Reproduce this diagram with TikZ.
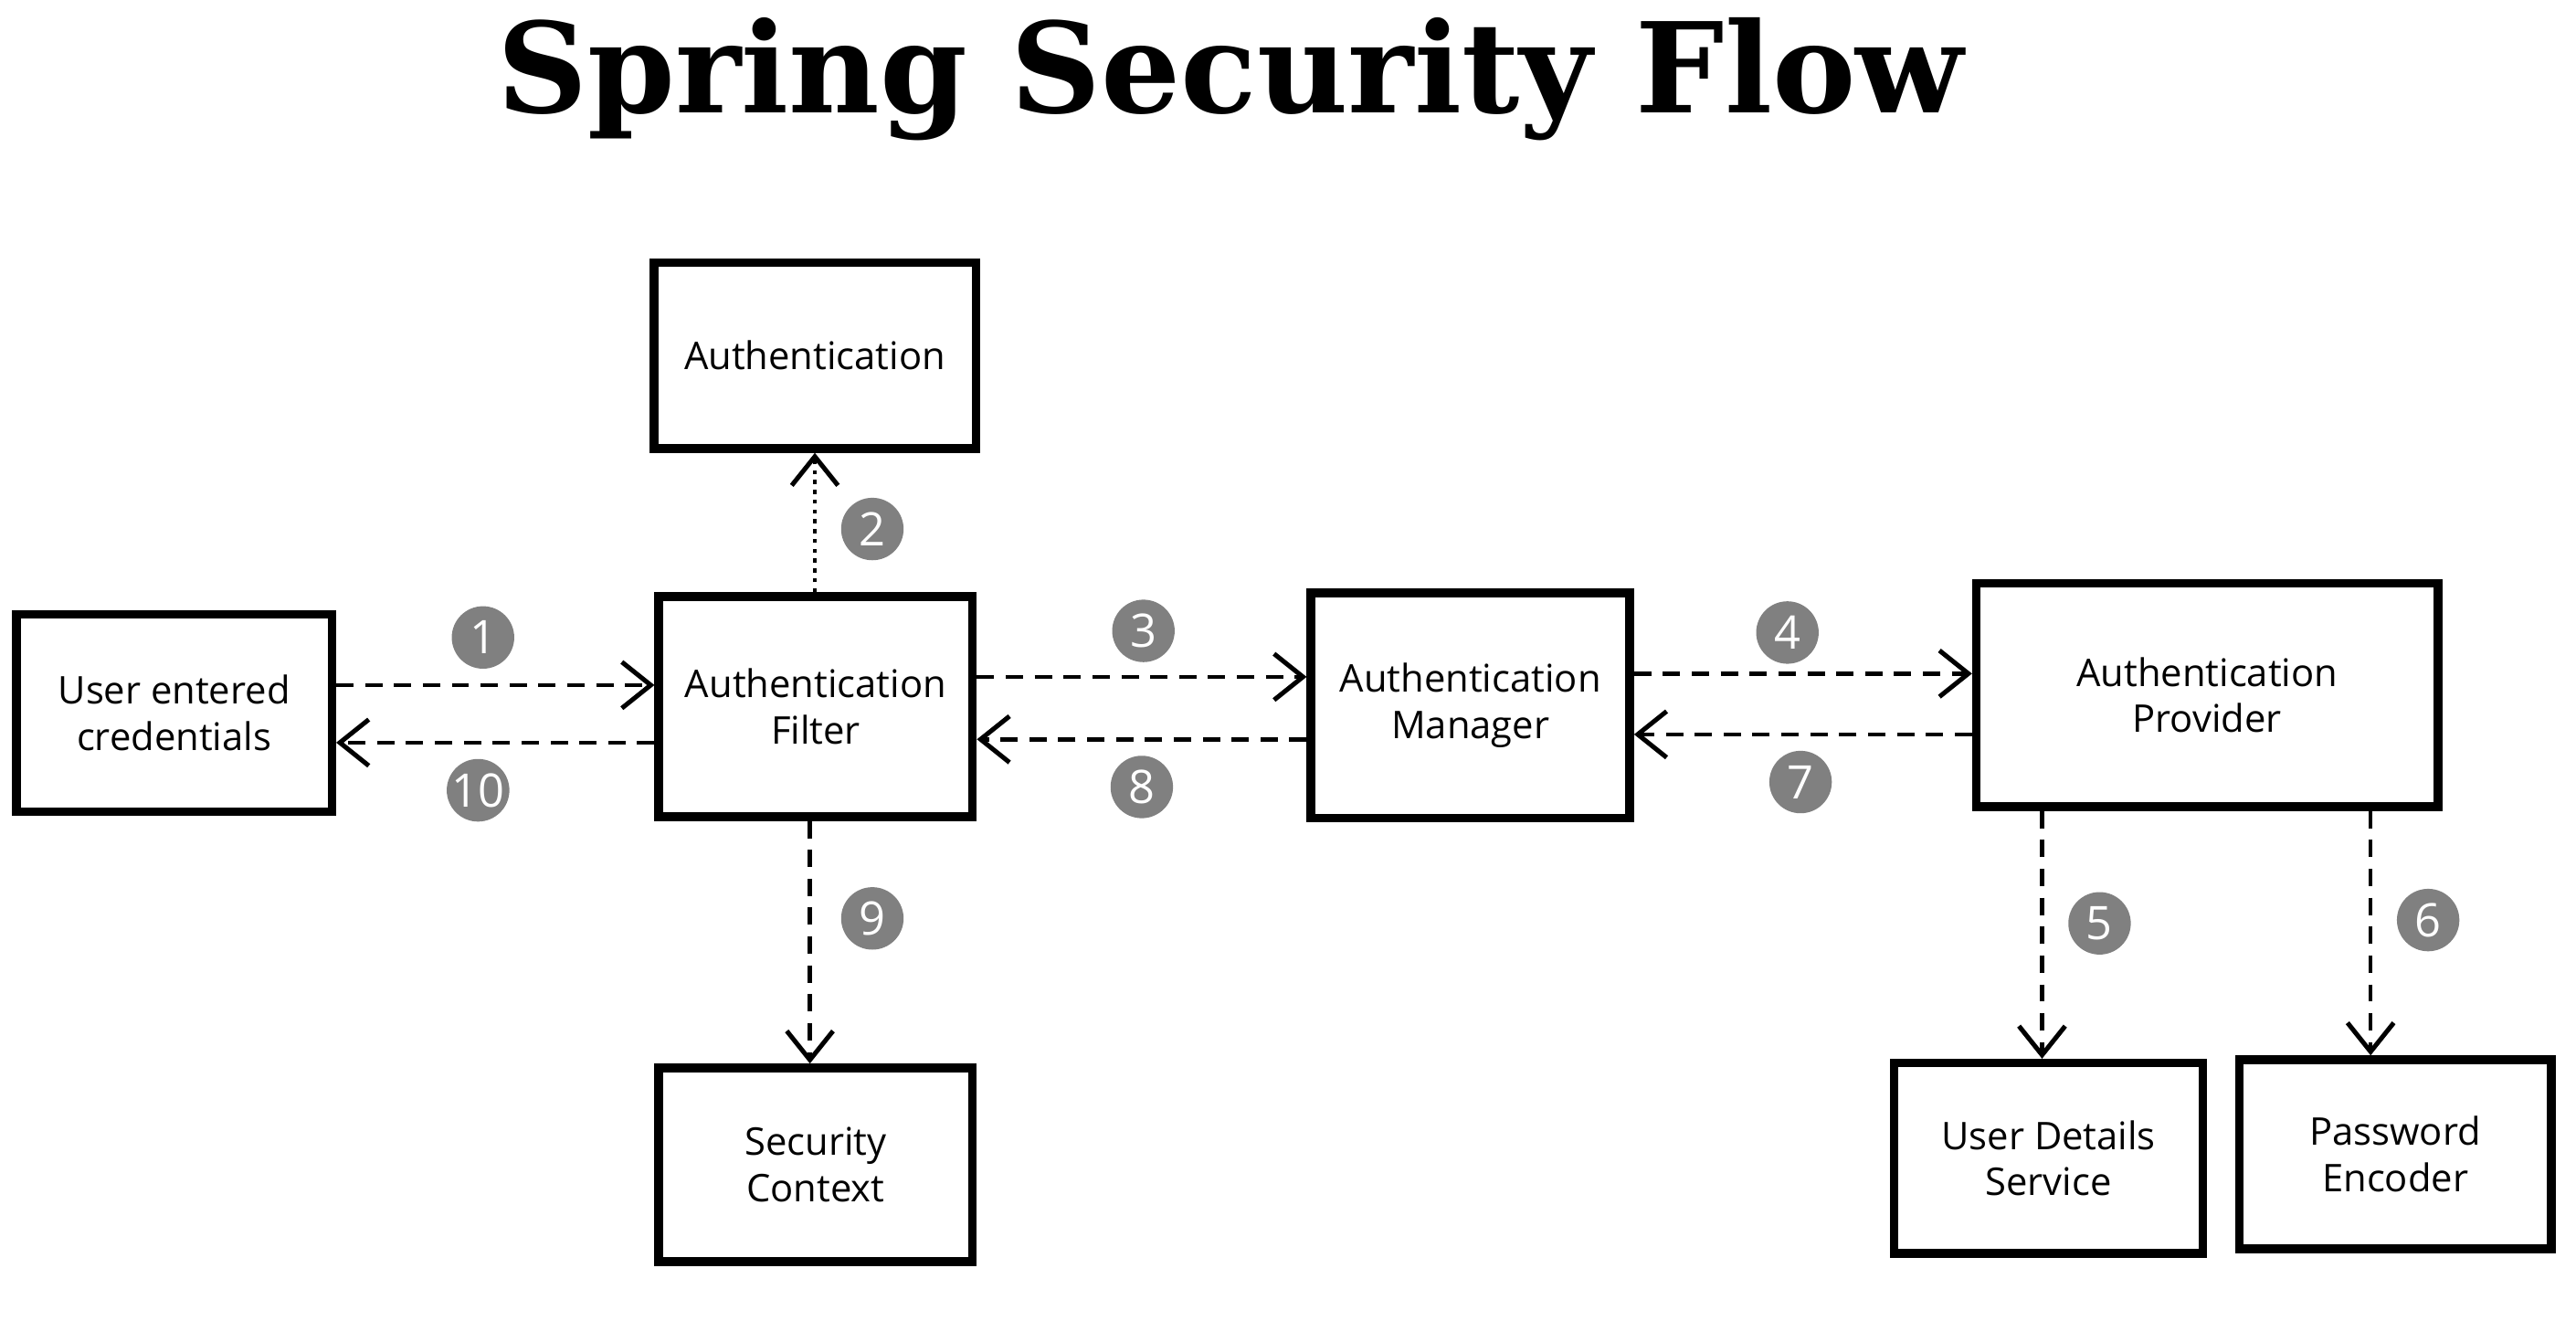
\documentclass[tikz,border=0pt]{standalone}
\usepackage{fontspec}
\setmainfont{Open Sans}
\newfontfamily\titlefont{DejaVu Serif}
\usetikzlibrary{arrows.meta}
\begin{document}
\begin{tikzpicture}[x=0.01cm,y=-0.01cm,
 box/.style={draw,line width=1.5pt,align=center,font=\fontsize{6.6}{8}\selectfont,inner sep=0pt},
 arr/.style={densely dashed,line width=0.7pt,-{Straight Barb[length=5pt,width=8pt,line width=0.8pt]}},
 num/.style={circle,fill=black!50,text=white,minimum size=0.38cm,inner sep=0pt,font=\fontsize{8}{8}\selectfont}]
\useasboundingbox (0,0) rectangle (1568,804);
\node[font=\titlefont\bfseries] (t) at (749,48) {\resizebox{8.92cm}{!}{Spring Security Flow}};
\newcommand\bx[6]{\node[box,minimum width={(#4-#2)*0.01cm},minimum height={(#5-#3)*0.01cm}] (#1) at ({(#2+#4)/2},{(#3+#5)/2}) {#6};}
\bx{u}{10}{374}{202}{494}{User entered\\credentials}
\bx{a}{398}{160}{594}{273}{Authentication}
\bx{f}{401}{363}{592}{497}{Authentication\\Filter}
\bx{m}{798}{361}{992}{498}{Authentication\\Manager}
\bx{p}{1203}{355}{1484}{491}{Authentication\\Provider}
\bx{s}{401}{650}{592}{768}{Security\\Context}
\bx{d}{1153}{647}{1341}{763}{User Details\\Service}
\bx{e}{1363}{645}{1553}{760}{Password\\Encoder}
\draw[arr] (u.east|-0,417) -- (f.west|-0,417);
\draw[arr] (f.west|-0,452) -- (u.east|-0,452);
\draw[arr] (f.east|-0,412) -- (m.west|-0,412);
\draw[arr] (m.west|-0,450) -- (f.east|-0,450);
\draw[arr] (m.east|-0,410) -- (p.west|-0,410);
\draw[arr] (p.west|-0,447) -- (m.east|-0,447);
\draw[arr,densely dotted] (f.north-|496,0) -- (a.south-|496,0);
\draw[arr] (f.south-|493,0) -- (s.north-|493,0);
\draw[arr] (p.south-|1243,0) -- (d.north-|1243,0);
\draw[arr] (p.south-|1443,0) -- (e.north-|1443,0);
\node[num] (n1) at (294,388) {1};
\node[num] (n10) at (291,481) {10};
\node[num] (n2) at (531,322) {2};
\node[num] (n3) at (696,384) {3};
\node[num] (n8) at (695,479) {8};
\node[num] (n4) at (1088,385) {4};
\node[num] (n7) at (1096,476) {7};
\node[num] (n9) at (531,559) {9};
\node[num] (n5) at (1278,562) {5};
\node[num] (n6) at (1478,560) {6};
\end{tikzpicture}
\end{document}
